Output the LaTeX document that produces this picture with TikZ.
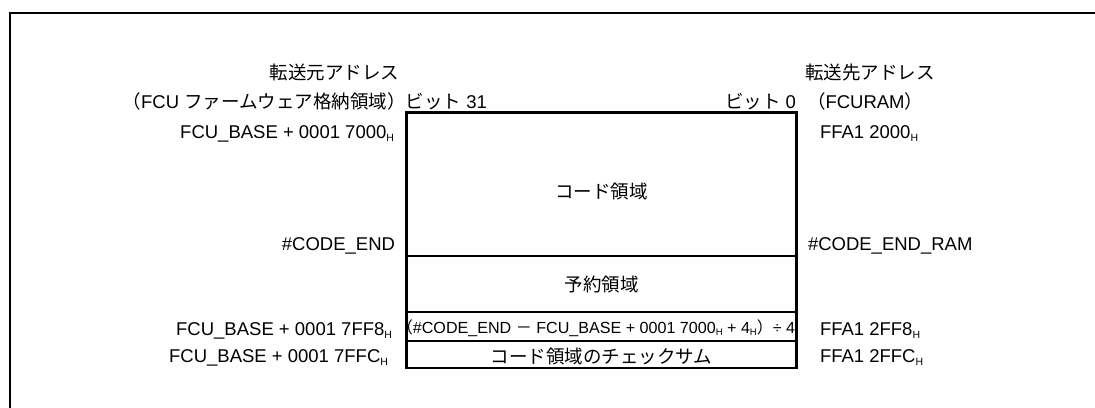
\documentclass[tikz,border=0pt]{standalone}
\usepackage{fontspec}
\setmainfont{Liberation Sans}
\newfontfamily\jp{Noto Sans CJK JP}
\newcommand\J[1]{{\jp #1}}
\newcommand\Hs{\raisebox{-0.35ex}{\fontsize{10.5}{10.5}\selectfont H}}
\newcommand\hs{\raisebox{-0.3ex}{\fontsize{9.5}{9.5}\selectfont H}}
\begin{document}
\begin{tikzpicture}[x=1pt,y=-1pt,
  lbl/.style={inner sep=0pt, outer sep=0pt, yshift=-4.5pt, font=\fontsize{18.5}{22}\selectfont},
  small/.style={inner sep=0pt, outer sep=0pt, yshift=-3.5pt, font=\fontsize{16.1}{18}\selectfont},
  rowbox/.style={draw, line width=2.2pt, minimum width=390pt, inner sep=0pt, outer sep=0pt, anchor=north west},
  frameline/.style={line width=2.2pt}]
\useasboundingbox (0,0) rectangle (1095,407);
% frame
\coordinate (fbl) at (10,408);
\coordinate (ftl) at (10,13);
\coordinate (ftr) at (1096,13);
\draw[frameline] (fbl) -- (ftl) -- (ftr);
% memory rows
\node[rowbox, minimum height=143.5pt] (code) at (406.5,112.5) {};
\node[rowbox, minimum height=56pt] (resv) at (406.5,256) {};
\node[rowbox, minimum height=29pt] (form) at (406.5,312) {};
\node[rowbox, minimum height=27pt] (csum) at (406.5,341) {};
% row texts
\node[lbl, anchor=mid] (codet) at (601.5,191) {\J{コード領域}};
\node[lbl, anchor=mid] (resvt) at (601.5,284) {\J{予約領域}};
\node[small, anchor=mid] (formt) at (596,327) {\J{（}\#CODE\_END \J{－} FCU\_BASE + 0001 7000\hs{} + 4\hs\J{）}÷ 4};
\node[lbl, anchor=mid] (csumt) at (601.5,356) {\J{コード領域のチェックサム}};
% left labels
\node[lbl, anchor=mid east] (srct) at (399,72) {\J{転送元アドレス}};
\node[lbl, anchor=mid east] (srcs) at (487,101) {\J{（}FCU \J{ファームウェア格納領域）ビット} 31};
\node[lbl, anchor=mid east] (a1) at (394,131) {FCU\_BASE + 0001 7000\Hs};
\node[lbl, anchor=mid east] (a2) at (395,243) {\#CODE\_END};
\node[lbl, anchor=mid east] (a3) at (392,328) {FCU\_BASE + 0001 7FF8\Hs};
\node[lbl, anchor=mid east] (a4) at (388,355) {FCU\_BASE + 0001 7FFC\Hs};
% right labels
\node[lbl, anchor=mid west] (dstt) at (805,72) {\J{転送先アドレス}};
\node[lbl, anchor=mid east] (bit0) at (796,101) {\J{ビット} 0};
\node[lbl, anchor=mid west] (dsts) at (807,101) {\J{（}FCURAM\J{）}};
\node[lbl, anchor=mid west] (b1) at (820,131) {FFA1 2000\Hs};
\node[lbl, anchor=mid west] (b2) at (808,243) {\#CODE\_END\_RAM};
\node[lbl, anchor=mid west] (b3) at (820,328) {FFA1 2FF8\Hs};
\node[lbl, anchor=mid west] (b4) at (820,355) {FFA1 2FFC\Hs};
\end{tikzpicture}
\end{document}
